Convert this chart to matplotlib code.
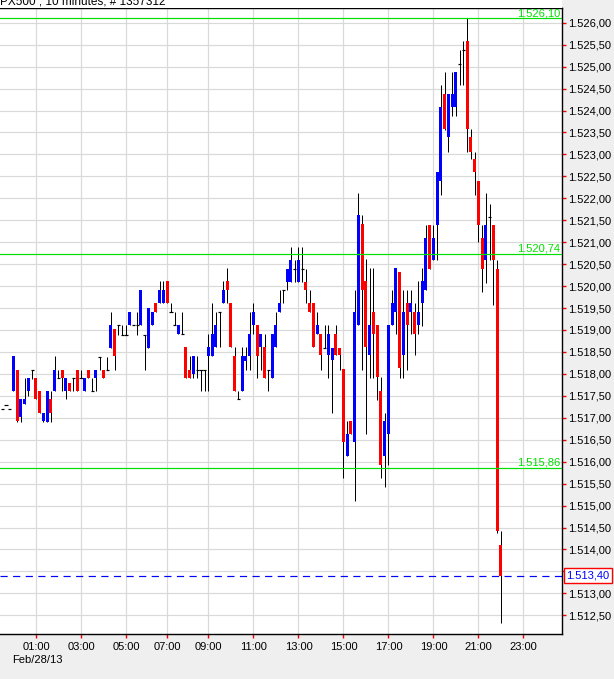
import matplotlib
matplotlib.use("Agg")
import numpy as np
import matplotlib.pyplot as plt
import matplotlib.ticker as mticker
from matplotlib.patches import Rectangle
from matplotlib.transforms import blended_transform_factory

# 10-minute bars, 23:30 (Feb 27) .. 22:00 (Feb 28)
opens = [
    1517.21, 1517.30, 1517.21, 1517.61, 1518.10, 1517.02, 1517.32, 1517.61, 1518.10, 1517.91,
    1517.60, 1516.93, 1516.91, 1517.42, 1517.61, 1517.91, 1518.10, 1517.61, 1517.80, 1517.91,
    1518.10, 1517.91, 1517.61, 1518.10, 1517.61, 1517.91, 1518.39, 1518.10, 1518.10, 1518.60,
    1519.02, 1519.11, 1518.88, 1518.88, 1519.11, 1519.11, 1519.11, 1519.11, 1518.88, 1518.60,
    1519.11, 1519.61, 1519.61, 1519.61, 1520.11, 1519.40, 1519.11, 1518.90, 1518.90, 1518.61,
    1518.10, 1518.00, 1518.10, 1518.10, 1518.10, 1518.41, 1518.41, 1518.61, 1519.40, 1519.61,
    1520.11, 1519.61, 1518.41, 1517.42, 1517.60, 1518.30, 1518.41, 1519.11, 1519.11, 1518.61,
    1518.61, 1518.10, 1517.91, 1518.61, 1519.40, 1519.91, 1520.09, 1520.10, 1520.38, 1520.10,
    1520.38, 1520.10, 1519.61, 1519.62, 1518.91, 1518.91, 1518.60, 1518.42, 1518.32, 1518.91,
    1518.60, 1518.11, 1516.14, 1516.92, 1516.44, 1519.12, 1521.41, 1520.12, 1518.42, 1519.42,
    1519.12, 1517.62, 1516.14, 1516.63, 1519.12, 1519.42, 1520.31, 1518.42, 1519.62, 1519.42,
    1519.42, 1519.12, 1519.62, 1519.91, 1521.40, 1520.60, 1521.40, 1522.40, 1524.38, 1523.40,
    1524.09, 1524.09, 1525.07, 1525.38, 1525.59, 1523.40, 1522.89, 1522.40, 1521.09, 1520.59,
    1521.58, 1521.39, 1520.39, 1514.10,
]
highs = [
    1517.21, 1517.30, 1517.21, 1518.41, 1518.10, 1517.42, 1517.91, 1517.91, 1518.10, 1517.91,
    1517.60, 1517.10, 1517.60, 1517.60, 1518.41, 1518.10, 1518.10, 1517.91, 1517.80, 1517.91,
    1518.10, 1518.10, 1517.91, 1518.10, 1517.91, 1518.10, 1518.39, 1518.10, 1518.39, 1519.40,
    1519.02, 1519.11, 1519.11, 1519.11, 1519.40, 1519.11, 1519.40, 1519.91, 1518.88, 1519.51,
    1519.40, 1519.61, 1520.11, 1520.11, 1520.11, 1519.61, 1519.40, 1519.11, 1519.40, 1518.61,
    1518.41, 1518.41, 1518.41, 1518.10, 1518.10, 1518.90, 1519.61, 1519.40, 1519.40, 1520.11,
    1520.41, 1519.61, 1518.61, 1517.60, 1518.61, 1518.61, 1519.40, 1519.61, 1519.11, 1518.90,
    1518.90, 1518.10, 1518.90, 1519.40, 1519.91, 1519.91, 1520.38, 1520.90, 1520.60, 1520.90,
    1520.90, 1520.38, 1519.91, 1519.62, 1519.42, 1518.91, 1519.11, 1519.11, 1518.60, 1519.11,
    1518.60, 1518.11, 1516.92, 1516.92, 1519.91, 1522.11, 1521.63, 1520.62, 1520.41, 1520.41,
    1519.12, 1517.92, 1517.10, 1519.12, 1519.91, 1520.41, 1520.31, 1519.91, 1519.91, 1519.91,
    1519.62, 1520.12, 1520.41, 1521.40, 1521.40, 1521.40, 1522.59, 1524.58, 1524.88, 1524.38,
    1524.88, 1524.88, 1525.38, 1525.59, 1526.10, 1523.59, 1523.06, 1522.40, 1521.39, 1522.11,
    1521.88, 1521.39, 1520.60, 1514.41,
]
lows = [
    1517.21, 1517.30, 1517.21, 1517.61, 1516.90, 1516.90, 1517.32, 1517.50, 1517.88, 1517.42,
    1517.10, 1516.91, 1516.91, 1516.91, 1517.61, 1517.91, 1517.61, 1517.42, 1517.61, 1517.61,
    1517.61, 1517.91, 1517.61, 1517.91, 1517.61, 1517.61, 1518.10, 1517.91, 1518.10, 1518.60,
    1518.10, 1518.88, 1518.88, 1518.88, 1519.11, 1519.11, 1518.88, 1519.11, 1518.10, 1518.60,
    1519.11, 1519.40, 1519.61, 1519.61, 1519.61, 1519.40, 1519.11, 1518.90, 1518.90, 1517.91,
    1517.91, 1517.91, 1517.91, 1517.60, 1517.60, 1517.60, 1518.41, 1518.61, 1518.61, 1519.61,
    1519.61, 1518.61, 1517.60, 1517.42, 1517.60, 1518.10, 1518.10, 1518.90, 1517.91, 1518.10,
    1517.91, 1517.60, 1517.91, 1518.61, 1519.40, 1519.61, 1519.91, 1520.10, 1520.10, 1520.10,
    1520.10, 1519.61, 1519.40, 1518.62, 1518.90, 1518.10, 1518.60, 1517.91, 1517.10, 1518.42,
    1518.10, 1515.62, 1516.14, 1516.63, 1515.11, 1519.12, 1518.10, 1516.62, 1517.91, 1517.91,
    1517.41, 1515.62, 1515.42, 1515.93, 1519.12, 1518.91, 1517.91, 1517.91, 1518.10, 1518.91,
    1518.42, 1518.91, 1519.10, 1519.91, 1520.38, 1520.60, 1520.60, 1522.07, 1523.55, 1523.06,
    1523.87, 1523.87, 1524.58, 1524.58, 1523.06, 1522.90, 1522.07, 1521.00, 1519.87, 1520.08,
    1520.60, 1519.57, 1514.38, 1512.32,
]
closes = [
    1517.21, 1517.30, 1517.21, 1518.41, 1516.93, 1517.42, 1517.42, 1517.91, 1518.10, 1517.42,
    1517.10, 1517.10, 1517.60, 1517.10, 1518.10, 1517.91, 1517.91, 1517.91, 1517.61, 1517.91,
    1517.61, 1517.91, 1517.91, 1517.91, 1517.61, 1518.10, 1518.39, 1517.91, 1518.10, 1519.11,
    1518.41, 1519.11, 1518.88, 1518.88, 1519.40, 1519.11, 1519.11, 1519.91, 1518.88, 1519.51,
    1519.40, 1519.40, 1519.91, 1519.91, 1519.61, 1519.40, 1519.11, 1519.11, 1518.90, 1517.91,
    1517.91, 1518.41, 1518.10, 1518.10, 1518.10, 1518.61, 1518.90, 1519.11, 1519.40, 1519.91,
    1519.91, 1518.61, 1517.60, 1517.42, 1518.41, 1518.41, 1518.90, 1519.40, 1518.41, 1518.90,
    1517.91, 1518.10, 1518.90, 1519.11, 1519.61, 1519.91, 1520.38, 1520.60, 1520.38, 1520.60,
    1520.38, 1519.90, 1519.40, 1518.62, 1519.11, 1518.42, 1518.60, 1518.91, 1518.60, 1518.42,
    1518.42, 1516.44, 1516.63, 1516.63, 1519.42, 1521.63, 1519.91, 1518.62, 1519.12, 1518.91,
    1517.94, 1515.93, 1516.92, 1519.12, 1519.62, 1520.41, 1518.13, 1519.42, 1519.12, 1519.62,
    1518.91, 1519.42, 1520.12, 1521.10, 1520.40, 1521.10, 1522.59, 1524.09, 1523.59, 1524.38,
    1524.38, 1524.88, 1525.07, 1525.38, 1523.59, 1523.06, 1522.59, 1521.39, 1520.40, 1521.39,
    1521.58, 1520.59, 1514.41, 1513.40,
]

time_ticks = [9, 21, 33, 44, 55, 67, 79, 91, 103, 115, 127, 139]
time_labels = ["01:00", "03:00", "05:00", "07:00", "09:00", "11:00",
               "13:00", "15:00", "17:00", "19:00", "21:00", "23:00"]
levels = [1526.10, 1520.74, 1515.86]
last_price = 1513.40

plt.rcParams["font.family"] = ["Liberation Sans", "DejaVu Sans"]
plt.rcParams["font.size"] = 8

W, H = 614, 679
GREEN = "#00e000"
PX = 72 / 100  # one pixel in points


def euro(v, pos=None):
    s = f"{v:,.2f}"
    return s.replace(",", "X").replace(".", ",").replace("X", ".")


def ylabel(v, pos=None):
    # the last-price box hides this one
    if abs(v - 1513.5) < 1e-6:
        return ""
    return euro(v)


fig = plt.figure(figsize=(W / 100, H / 100), dpi=100, facecolor="#efefef")
fig.patches.append(Rectangle((0, (H - 8) / H), 562 / W, 8 / H,
                             transform=fig.transFigure, facecolor="white",
                             edgecolor="none", zorder=0))
fig.text(0, 1 - 5 / H, "PX500 , 10 minutes, # 1357312", ha="left",
         va="baseline", fontsize=8.5)

ax = fig.add_axes([0, (H - 634) / H, 562 / W, 626 / H])
ax.set_facecolor("white")

x = np.arange(len(opens))
o = np.array(opens)
c = np.array(closes)

ax.vlines(x, lows, highs, color="black", lw=PX, zorder=2)

up = c > o
down = c < o
flat = c == o
ax.bar(x[up], (c - o)[up], bottom=o[up], width=0.8, color="#0000ff",
       lw=0, zorder=3)
ax.bar(x[down], (o - c)[down], bottom=c[down], width=0.8, color="#ff0000",
       lw=0, zorder=3)
ax.hlines(o[flat], x[flat] - 0.45, x[flat] + 0.45, color="black", lw=1.2 * PX,
          zorder=3)

trans = blended_transform_factory(ax.transAxes, ax.transData)
for lv in levels:
    ax.axhline(lv, color=GREEN, lw=1.2 * PX, zorder=4)
    ax.annotate(euro(lv), xy=(1, lv), xycoords=trans, xytext=(-2, 2),
                textcoords="offset pixels", ha="right", va="baseline",
                color=GREEN, fontsize=8, zorder=5)

ax.axhline(last_price, color="#0000ff", lw=1.2 * PX, linestyle=(0, (6, 4.5)),
           zorder=4)
ax.annotate(euro(last_price), xy=(1, last_price), xycoords=trans,
            xytext=(4, 0), textcoords="offset pixels", ha="left", va="center",
            color="#0000ff", fontsize=8, annotation_clip=False, zorder=10,
            bbox=dict(boxstyle="square,pad=0.22", fc="white", ec="red", lw=1.4 * PX))

ax.set_xlim(-0.6, 149.27)
ax.set_ylim(1512.075, 1526.335)

ax.set_yticks(np.arange(1512.5, 1526.01, 0.5))
ax.yaxis.set_major_formatter(mticker.FuncFormatter(ylabel))
ax.yaxis.tick_right()
ax.tick_params(axis="y", direction="out", length=3, width=1, color="red",
               labelcolor="black", pad=1.5, labelsize=8)

ax.set_xticks(time_ticks, time_labels)
ax.tick_params(axis="x", direction="out", length=3, width=1, color="red",
               labelcolor="black", pad=3, labelsize=8)

ax.grid(True, color="#d9d9d9", lw=1.2 * PX)
ax.set_axisbelow(True)
ax.spines["left"].set_visible(False)
for s in ["top", "right", "bottom"]:
    ax.spines[s].set_color("black")
    ax.spines[s].set_linewidth(1.4 * PX)

fig.text(12 / W, 1 - 660 / H, "Feb/28/13", ha="left", va="center", fontsize=8)

fig.savefig("out.png", dpi=100, facecolor=fig.get_facecolor())
